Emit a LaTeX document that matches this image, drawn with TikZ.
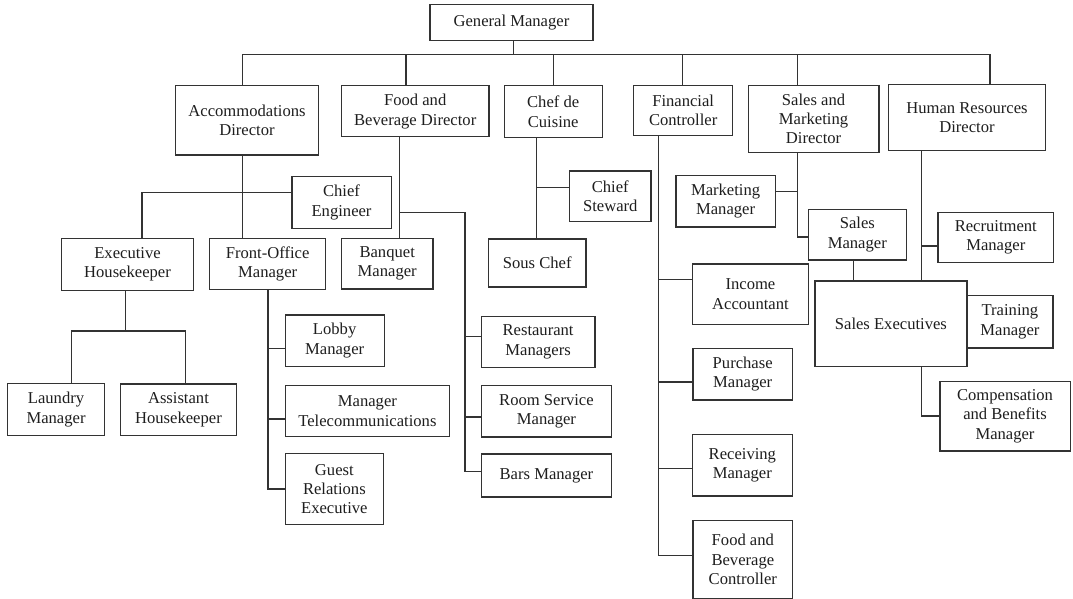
\documentclass[tikz,border=0pt]{standalone}
\usepackage{fontspec}
\setmainfont{Liberation Serif}
\definecolor{linec}{HTML}{333333}
\definecolor{textc}{HTML}{1E1E1E}
\begin{document}
\begin{tikzpicture}[x=1pt,y=-1pt,
  box/.style={draw=linec, line width=1.2pt, fill=white, inner sep=0pt,
    align=center, anchor=north west, text=textc,
    font=\fontsize{16.6}{19.3}\selectfont},
  link/.style={draw=linec, line width=1.2pt}]
\useasboundingbox (0,0) rectangle (1073,599);

% ---- top level ----
\node[box, minimum width=162.9pt, minimum height=35.4pt] (gm) at (429.4,4.3) {General Manager};

% ---- directors ----
\node[box, minimum width=143.6pt, minimum height=69.0pt] (acc) at (174.6,85.3) {Accommodations\\Director};
\node[box, minimum width=147.4pt, minimum height=51.0pt] (fbd) at (340.9,85.3) {Food and\\Beverage Director};
\node[box, minimum width=98.2pt, minimum height=51.4pt] (cdc) at (503.5,85.3) {Chef de\\Cuisine};
\node[box, minimum width=98.7pt, minimum height=50.6pt] (fin) at (633.2,84.7) {Financial\\Controller};
\node[box, minimum width=130.9pt, minimum height=67.3pt] (smd) at (747.5,84.7) {Sales and\\Marketing\\Director};
\node[box, minimum width=156.5pt, minimum height=65.7pt] (hrd) at (888.1,84.3) {Human Resources\\Director};

% ---- accommodations ----
\node[box, minimum width=99.1pt, minimum height=52.0pt] (ce) at (291.4,175.7) {Chief\\Engineer};
\node[box, minimum width=132.6pt, minimum height=52.0pt] (ehk) at (60.6,237.7) {Executive\\Housekeeper};
\node[box, minimum width=116.1pt, minimum height=51.0pt] (fom) at (209.0,237.7) {Front-Office\\Manager};
\node[box, minimum width=96.5pt, minimum height=51.7pt] (lau) at (7.2,383.0) {Laundry\\Manager};
\node[box, minimum width=116.1pt, minimum height=51.7pt] (ahk) at (119.8,383.3) {Assistant\\Housekeeper};
\node[box, minimum width=99.1pt, minimum height=51.4pt] (lob) at (284.5,314.3) {Lobby\\Manager};
\node[box, minimum width=164.6pt, minimum height=51.0pt] (tel) at (284.5,385.0) {Manager\\Telecommunications};
\node[box, minimum width=98.5pt, minimum height=70.7pt] (gre) at (284.5,453.0) {Guest\\Relations\\Executive};

% ---- food and beverage ----
\node[box, minimum width=91.4pt, minimum height=50.6pt] (bqm) at (340.9,237.7) {Banquet\\Manager};
\node[box, minimum width=113.6pt, minimum height=50.7pt] (rst) at (480.7,316.0) {Restaurant\\Managers};
\node[box, minimum width=130.3pt, minimum height=51.6pt] (rsm) at (480.7,384.7) {Room Service\\Manager};
\node[box, minimum width=130.3pt, minimum height=43.0pt] (bar) at (480.7,453.3) {Bars Manager};

% ---- kitchen ----
\node[box, minimum width=81.3pt, minimum height=50.4pt] (cst) at (569.0,170.3) {Chief\\Steward};
\node[box, minimum width=97.3pt, minimum height=48.0pt] (sou) at (488.0,238.3) {Sous Chef};

% ---- finance ----
\node[box, minimum width=116.3pt, minimum height=60.2pt] (inc) at (691.7,263.3) {Income\\Accountant};
\node[box, minimum width=99.4pt, minimum height=51.3pt] (pur) at (692.4,348.0) {Purchase\\Manager};
\node[box, minimum width=100.1pt, minimum height=61.3pt] (rec) at (691.7,434.0) {Receiving\\Manager};
\node[box, minimum width=99.7pt, minimum height=77.6pt] (fbc) at (692.4,520.0) {Food and\\Beverage\\Controller};

% ---- sales and marketing ----
\node[box, minimum width=99.4pt, minimum height=51.6pt] (mkm) at (675.3,174.7) {Marketing\\Manager};
\node[box, minimum width=98.0pt, minimum height=50.6pt] (slm) at (807.7,208.7) {Sales\\Manager};
\node[box, minimum width=152.0pt, minimum height=85.7pt] (sex) at (814.3,280.3) {Sales Executives};

% ---- human resources ----
\node[box, minimum width=115.8pt, minimum height=50.3pt] (rcm) at (937.3,211.7) {Recruitment\\Manager};
\node[box, minimum width=86.0pt, minimum height=52.1pt] (trm) at (966.3,295.2) {Training\\Manager};
\node[box, minimum width=130.2pt, minimum height=69.3pt] (cbm) at (939.3,381.0) {Compensation\\and Benefits\\Manager};

% ---- junction points ----
\coordinate (gmJ)  at (513.1,54.3);
\coordinate (jAcc) at (242.8,54.3);
\coordinate (jFb)  at (406.0,54.3);
\coordinate (jFin) at (682.4,54.3);
\coordinate (jSmd) at (797.7,54.3);
\coordinate (jHr)  at (989.9,54.3);

\coordinate (ceJ) at (141.9,192.3);
\coordinate (hkX) at (125.7,331.0);
\coordinate (hkL) at (71.6,331.0);
\coordinate (hkR) at (185.3,331.0);
\coordinate (foA) at (267.9,348.7);
\coordinate (foB) at (267.9,419.0);
\coordinate (foC) at (267.9,489.0);

\coordinate (fbJ) at (399.8,212.3);
\coordinate (fbK) at (464.9,212.3);
\coordinate (fbA) at (464.9,336.7);
\coordinate (fbB) at (464.9,417.0);
\coordinate (fbC) at (464.9,471.3);

\coordinate (cdJ) at (536.2,187.3);

\coordinate (fiA) at (658.6,279.7);
\coordinate (fiB) at (658.6,382.0);
\coordinate (fiC) at (658.6,468.3);
\coordinate (fiD) at (658.6,555.7);

\coordinate (smA) at (797.7,191.3);
\coordinate (smB) at (797.7,237.0);
\coordinate (slX) at (853.3,270.0);

\coordinate (hrA) at (921.7,246.0);
\coordinate (hrB) at (921.7,416.0);

% ---- top bus ----
\draw[link] (jAcc) -- (jHr);
\draw[link] (gmJ |- gm.south) -- (gmJ);
\draw[link] (jAcc) -- (jAcc |- acc.north);
\draw[link] (jFb) -- (jFb |- fbd.north);
\draw[link] (cdc.north) -- (cdc.north |- jAcc);
\draw[link] (jFin) -- (jFin |- fin.north);
\draw[link] (jSmd) -- (jSmd |- smd.north);
\draw[link] (jHr) -- (jHr |- hrd.north);

% ---- accommodations ----
\draw[link] (jAcc |- acc.south) -- (jAcc |- fom.north);
\draw[link] (ce.west |- ceJ) -- (ceJ) -- (ceJ |- ehk.north);
\draw[link] (hkX |- ehk.south) -- (hkX);
\draw[link] (hkL |- lau.north) -- (hkL) -- (hkR) -- (hkR |- ahk.north);
\draw[link] (foC |- fom.south) -- (foC) -- (foC -| gre.west);
\draw[link] (foA) -- (foA -| lob.west);
\draw[link] (foB) -- (foB -| tel.west);

% ---- food and beverage ----
\draw[link] (fbJ |- fbd.south) -- (fbJ |- bqm.north);
\draw[link] (fbJ) -- (fbK) -- (fbC) -- (fbC -| bar.west);
\draw[link] (fbA) -- (fbA -| rst.west);
\draw[link] (fbB) -- (fbB -| rsm.west);

% ---- kitchen ----
\draw[link] (cdJ |- cdc.south) -- (cdJ |- sou.north);
\draw[link] (cdJ) -- (cdJ -| cst.west);

% ---- finance ----
\draw[link] (fiD |- fin.south) -- (fiD) -- (fiD -| fbc.west);
\draw[link] (fiA) -- (fiA -| inc.west);
\draw[link] (fiB) -- (fiB -| pur.west);
\draw[link] (fiC) -- (fiC -| rec.west);

% ---- sales and marketing ----
\draw[link] (jSmd |- smd.south) -- (smB) -- (smB -| slm.west);
\draw[link] (mkm.east |- smA) -- (smA);
\draw[link] (slX |- slm.south) -- (slX |- sex.north);

% ---- human resources ----
\draw[link] (hrA |- hrd.south) -- (hrA |- sex.north);
\draw[link] (hrA) -- (hrA -| rcm.west);
\draw[link] (hrB |- sex.south) -- (hrB) -- (hrB -| cbm.west);
\end{tikzpicture}
\end{document}
